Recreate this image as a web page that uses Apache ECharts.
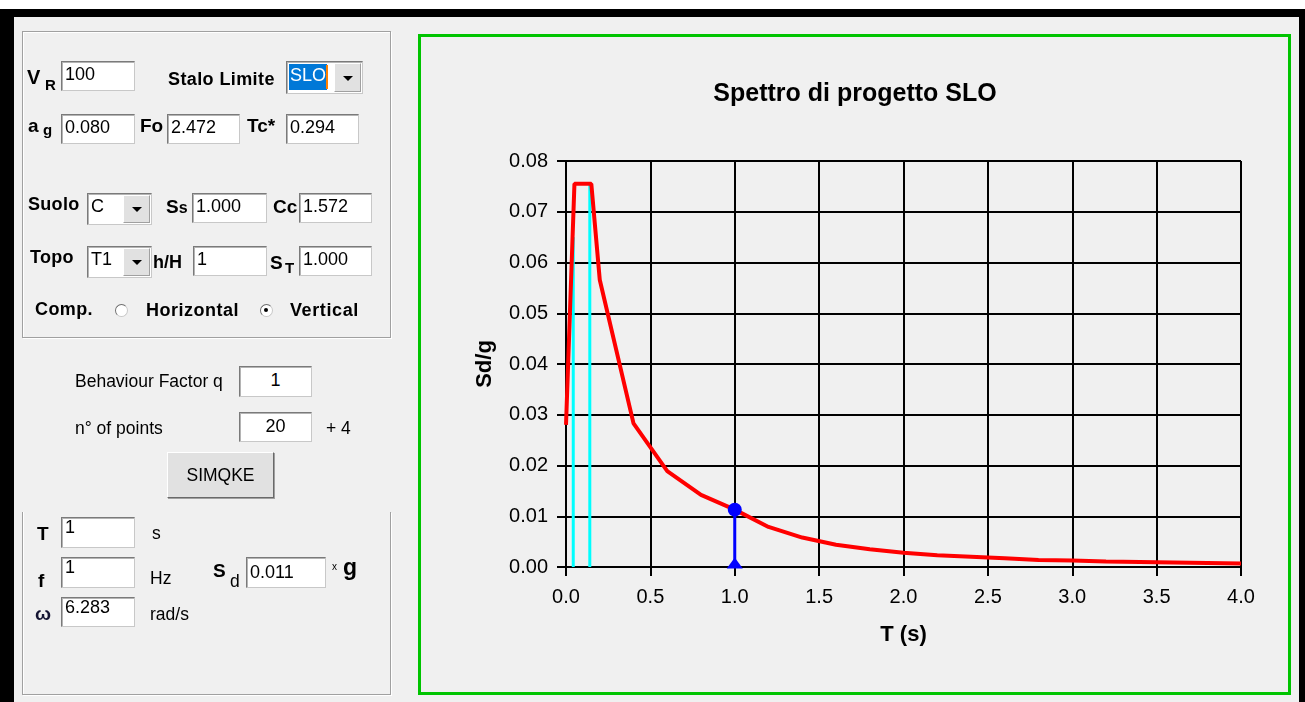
<!DOCTYPE html>
<html><head><meta charset="utf-8">
<script src="https://cdn.jsdelivr.net/npm/echarts/dist/echarts.min.js"></script>
<style>
html,body{margin:0;padding:0}
body{width:1305px;height:702px;background:#f0f0f0;position:relative;overflow:hidden;font-family:"Liberation Sans",Arial,sans-serif;color:#000}
.abs{position:absolute;box-sizing:border-box}
.t{position:absolute;white-space:nowrap}
.in{position:absolute;box-sizing:border-box;background:#fff;border:1px solid;border-color:#7a7a7a #c8c8c8 #c8c8c8 #7a7a7a;box-shadow:inset 1px 1px 0 #b4b4b4}
.btn{position:absolute;box-sizing:border-box;background:#e1e1e1;border:1px solid;border-color:#fff #696969 #696969 #fff;box-shadow:1px 1px 0 #a0a0a0}
</style></head><body>
<div id="chart" class="abs" style="left:0;top:0;width:1305px;height:702px"></div>
<div id="ui"></div>
<script>
// ---- chart data ----
const periods  = [0, 0.05, 0.15, 0.2, 0.4, 0.6, 0.8, 1.0, 1.2, 1.4, 1.6, 1.8, 2.0, 2.2, 2.4, 2.6, 2.8, 3.0, 3.2, 3.4, 3.6, 3.8, 4.0];
const sdValues = [0.028, 0.0755, 0.0755, 0.0566, 0.0283, 0.0189, 0.0142, 0.0113, 0.0079, 0.0058, 0.0044, 0.0035, 0.0028, 0.0023, 0.0020, 0.0017, 0.0014, 0.0013, 0.0011, 0.0010, 0.0009, 0.0008, 0.0007];
const cornerPeriods = [0.043, 0.141];
const cornerTops    = [0.065, 0.0755];
const markerPeriod = 1.0;
const markerSd     = 0.0113;
const chartTitle = 'Spettro di progetto SLO';
const xName = 'T (s)';
const yName = 'Sd/g';

// ---- dialog panel (layout only) ----
const ui = document.getElementById('ui');
function add(h){ ui.insertAdjacentHTML('beforeend', h); }
function rect(l,t,w,h,st){ add(`<div class="abs" style="left:${l}px;top:${t}px;width:${w}px;height:${h}px;${st}"></div>`); }
function label(txt,l,base,size,bold,extra){
  const top = base - 0.8465*size;
  add(`<div class="t" style="left:${l}px;top:${top.toFixed(1)}px;font-size:${size}px;line-height:${size}px;font-weight:${bold?'bold':'normal'};${extra||''}">${txt}</div>`);
}
const FS = 18;
function field(l,t,r,b,txt,capTop,center){
  const ty = capTop - t - 1 - 0.13*FS;
  const al = center ? 'left:0;right:0;text-align:center;' : 'left:3px;';
  add(`<div class="in" style="left:${l}px;top:${t}px;width:${r-l}px;height:${b-t}px"><div class="t" style="${al}top:${ty.toFixed(1)}px;font-size:${FS}px;line-height:${FS}px">${txt}</div></div>`);
}
function combo(l,t,r,b,txt,capTop,selected){
  add(`<div class="in" style="left:${l}px;top:${t}px;width:${r-l}px;height:${b-t}px"></div>`);
  const ty = capTop - 0.13*FS;
  if(selected){
    rect(l+3,t+3,38,b-t-7,'background:#0078d7');
    add(`<div class="t" style="left:${l+4}px;top:${ty.toFixed(1)}px;font-size:${FS}px;line-height:${FS}px;color:#fff">${txt}</div>`);
    rect(l+40,t+4,2,b-t-9,'background:#ff8000');
  } else {
    add(`<div class="t" style="left:${l+4}px;top:${ty.toFixed(1)}px;font-size:${FS}px;line-height:${FS}px">${txt}</div>`);
  }
  const bl = r-29, bt = t+2, bw = 27, bh = b-t-4;
  add(`<div class="btn" style="left:${bl}px;top:${bt}px;width:${bw}px;height:${bh}px;box-shadow:none;border-color:#fff #a0a0a0 #a0a0a0 #fff"></div>`);
  const cx = bl + bw/2, cy = bt + bh/2;
  add(`<div class="abs" style="left:${cx-5}px;top:${cy-2}px;width:0;height:0;border-left:5px solid transparent;border-right:5px solid transparent;border-top:5px solid #000"></div>`);
}
function radio(cx,cy,on){
  rect(cx-6.5,cy-6.5,13,13,'border-radius:50%;background:#fff;border:1px solid;border-color:#6e6e6e #c8c8c8 #c8c8c8 #6e6e6e');
  if(on) rect(cx-2,cy-2,4,4,'border-radius:50%;background:#000');
}

// window borders
rect(0,0,1305,9,'background:#fff');
rect(0,9,1305,8,'background:#000');
rect(0,9,14,693,'background:#000');
rect(1299,9,6,693,'background:#000');
// chart frame
rect(418,34,873,661,'border:3px solid #00c400');
// group boxes
rect(22,31,369,307,'border:1px solid #a0a0a0;box-shadow:inset 1px 1px 0 #fff,1px 1px 0 #fff');
rect(22,512,369,183,'border:1px solid #a0a0a0;border-top:none;box-shadow:inset 1px 0 0 #fff,1px 1px 0 #fff');

// row 1
label('V',27,84,20,true,'letter-spacing:1px'); label('R',45,90,15,true);
field(61,61,135,91,'100',67,false);
label('Stalo Limite',168,85,18,true,'letter-spacing:0.4px');
combo(286,61,363,94,'SLO',68,true);
// row 2
label('a',28,132,19,true); label('g',43,135,15,true);
field(61,114,135,144,'0.080',120,false);
label('Fo',140,132,19,true);
field(167,114,240,144,'2.472',120,false);
label('Tc*',247,132,19,true);
field(286,114,359,144,'0.294',120,false);
// row 3
label('Suolo',28,210,18,true,'letter-spacing:0.3px');
combo(87,193,152,225,'C',199,false);
label('S<span style="font-size:16px">s</span>',166,213,19,true);
field(192,193,267,223,'1.000',199,false);
label('Cc',273,213,19,true);
field(299,193,372,223,'1.572',199,false);
// row 4
label('Topo',30,263,18,true,'letter-spacing:0.3px');
combo(87,246,152,278,'T1',252,false);
label('h/H',153,268,18,true);
field(193,246,267,276,'1',252,false);
label('S',270,269,19,true); label('T',285,273,15,true);
field(299,246,372,276,'1.000',252,false);
// row 5
label('Comp.',35,315,18,true,'letter-spacing:0.4px');
radio(121,310,false);
label('Horizontal',146,316,18,true,'letter-spacing:0.5px');
radio(266,310,true);
label('Vertical',290,316,18,true,'letter-spacing:0.6px');
// middle
label('Behaviour Factor q',75,388,17.5,false);
field(239,366,312,397,'1',373,true);
label('n° of points',75,435,17.5,false);
field(239,412,312,442,'20',419,true);
label('+ 4',326,435,17.5,false);
add(`<div class="btn" style="left:167px;top:452px;width:107px;height:46px;text-align:center;font-size:17.5px;line-height:44px">SIMQKE</div>`);
// group 2
label('T',37,540,19,true);
field(61,517,135,548,'1',520,false);
label('s',152,540,17.5,false);
label('f',38,587,19,true);
field(61,557,135,588,'1',560,false);
label('Hz',150,585,17.5,false);
label('ω',35,620,19,true,'color:#141432');
field(61,597,135,627,'6.283',600,false);
label('rad/s',150,621,17.5,false);
label('S',213,577,19,true); label('d',230,588,17.5,false);
field(246,557,326,588,'0.011',565,false);
label('x',332,570,10,false);
label('g',343,575,23,true);

// ---- chart ----
const chart = echarts.init(document.getElementById('chart'));
const red = periods.map((t,i)=>[t, sdValues[i]]);
const axisFont = {fontFamily:'Liberation Sans', fontSize:20, color:'#000'};
const nameFont = {fontFamily:'Liberation Sans', fontSize:22, fontWeight:'bold', color:'#000'};
const blk = {color:'#000', width:2};
chart.setOption({
  backgroundColor:'transparent',
  animation:false,
  title:{text:chartTitle, left:850, top:77, textAlign:'center',
    textStyle:{fontFamily:'Liberation Sans', fontSize:25, fontWeight:'bold', color:'#000'}},
  grid:{left:566, top:161, width:675, height:406, containLabel:false},
  xAxis:{type:'value', min:0, max:4, interval:0.5,
    name:xName, nameLocation:'middle', nameGap:57, nameTextStyle:nameFont,
    axisLine:{show:true, lineStyle:blk},
    axisTick:{show:true, length:9, lineStyle:blk},
    splitLine:{show:true, lineStyle:blk},
    axisLabel:Object.assign({margin:20, formatter:v=>v.toFixed(1)}, axisFont)},
  yAxis:{type:'value', min:0, max:0.08, interval:0.01,
    name:yName, nameLocation:'middle', nameGap:70, nameTextStyle:nameFont,
    axisLine:{show:true, lineStyle:blk},
    axisTick:{show:true, length:9, lineStyle:blk},
    splitLine:{show:true, lineStyle:blk},
    axisLabel:Object.assign({margin:18, formatter:v=>v.toFixed(2)}, axisFont)},
  series:[
    {type:'line', data:[[cornerPeriods[0],0],[cornerPeriods[0],cornerTops[0]]], showSymbol:false, lineStyle:{color:'#00ffff', width:3}, z:2, silent:true},
    {type:'line', data:[[cornerPeriods[1],0],[cornerPeriods[1],cornerTops[1]]], showSymbol:false, lineStyle:{color:'#00ffff', width:3}, z:2, silent:true},
    {type:'line', data:red, showSymbol:false, lineStyle:{color:'#ff0000', width:4}, z:3, silent:true},
    {type:'line', data:[
        {value:[markerPeriod,0], symbol:'triangle', symbolSize:[16,11], symbolOffset:[0,-4]},
        {value:[markerPeriod,markerSd], symbol:'circle', symbolSize:14}],
      showSymbol:true, showAllSymbol:true, lineStyle:{color:'#0000ff', width:3}, itemStyle:{color:'#0000ff'}, z:5, silent:true}
  ]
});
</script>
</body></html>
